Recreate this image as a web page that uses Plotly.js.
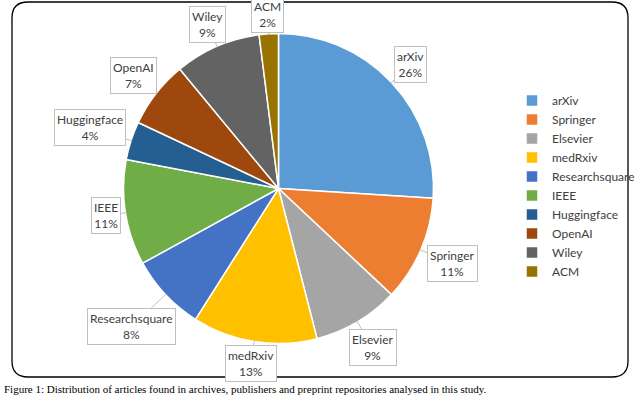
<!DOCTYPE html>
<html>
<head>
<meta charset="utf-8">
<script src="https://cdn.plot.ly/plotly-3.0.1.min.js"></script>
<style>html,body{margin:0;padding:0;background:#fff;}#chart{width:640px;height:396px;}</style>
</head>
<body>
<div id="chart"></div>
<script>
const publishers = ["arXiv","Springer","Elsevier","medRxiv","Researchsquare","IEEE","Huggingface","OpenAI","Wiley","ACM"];
const shares = [26, 11, 9, 13, 8, 11, 4, 7, 9, 2];
const colors = ["#5B9BD5","#ED7D31","#A5A5A5","#FFC000","#4472C4","#70AD47","#255E91","#9E480E","#636363","#997300"];
const caption = "Figure 1: Distribution of articles found in archives, publishers and preprint repositories analysed in this study.";

const W = 640, H = 396;
const cx = 278.5, cy = 188.5, R = 155;
const px = x => x / W;
const py = y => 1 - y / H;
const labelFont = {family: "Lato, 'Open Sans', sans-serif", size: 12, color: "#404040"};

// pie label boxes placed just outside the slice mid-angle, with a thin leader line to the slice edge
const total = shares.reduce((a, b) => a + b, 0);
let cum = 0;
const annotations = [];
publishers.forEach((name, i) => {
  const mid = (cum + shares[i] / 2) / total * 2 * Math.PI;
  cum += shares[i];
  const dx = Math.sin(mid), dy = -Math.cos(mid);
  const w = Math.max(name.length * 6.3, 24) + 6, h = 32;
  const r = R + Math.abs(dx) * w / 2 + Math.abs(dy) * h / 2 + 2;
  annotations.push({
    xref: "paper", yref: "paper",
    x: px(cx + dx * (R - 1)), y: py(cy + dy * (R - 1)),
    ax: dx * (r - R + 1), ay: dy * (r - R + 1),
    xanchor: "center", yanchor: "middle",
    text: name + "<br>" + shares[i] + "%",
    showarrow: true, arrowhead: 0, arrowwidth: 1, arrowcolor: "#bfbfbf", standoff: 0,
    font: labelFont,
    bgcolor: "#ffffff", bordercolor: "#bfbfbf", borderwidth: 1, borderpad: 2
  });
});

annotations.push({
  xref: "paper", yref: "paper", x: px(2), y: py(381), xanchor: "left", yanchor: "top",
  text: caption, showarrow: false,
  font: {family: "'Liberation Serif', 'DejaVu Serif', serif", size: 11, color: "#000"}
});

// rounded frame
const L = 12, T = 2, Rr = 628, B = 377, c = 16;
const path = `M ${px(L + c)},${py(T)} L ${px(Rr - c)},${py(T)} Q ${px(Rr)},${py(T)} ${px(Rr)},${py(T + c)} ` +
  `L ${px(Rr)},${py(B - c)} Q ${px(Rr)},${py(B)} ${px(Rr - c)},${py(B)} L ${px(L + c)},${py(B)} ` +
  `Q ${px(L)},${py(B)} ${px(L)},${py(B - c)} L ${px(L)},${py(T + c)} Q ${px(L)},${py(T)} ${px(L + c)},${py(T)} Z`;

const trace = {
  type: "pie",
  labels: publishers,
  values: shares,
  sort: false,
  direction: "clockwise",
  rotation: 0,
  textinfo: "none",
  hoverinfo: "label+percent",
  marker: {colors: colors, line: {color: "#ffffff", width: 1.5}},
  domain: {x: [px(cx - R), px(cx + R)], y: [py(cy + R), py(cy - R)]}
};

const layout = {
  width: W, height: H,
  margin: {l: 0, r: 0, t: 0, b: 0},
  paper_bgcolor: "#ffffff",
  showlegend: true,
  legend: {
    x: px(512), y: py(86), xanchor: "left", yanchor: "top",
    font: {family: "Lato, 'Open Sans', sans-serif", size: 12, color: "#404040"},
    itemwidth: 30, bgcolor: "rgba(0,0,0,0)"
  },
  annotations: annotations,
  shapes: [{type: "path", xref: "paper", yref: "paper", path: path, line: {color: "#000", width: 1.3}}]
};

Plotly.newPlot("chart", [trace], layout, {displayModeBar: false, staticPlot: true});
</script>
</body>
</html>
